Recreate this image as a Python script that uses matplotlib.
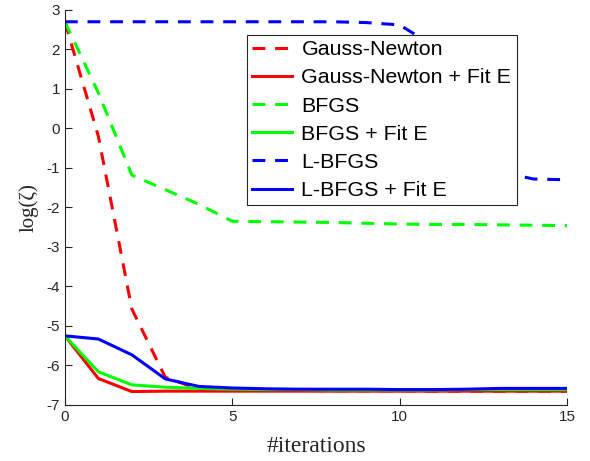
import matplotlib
matplotlib.use("Agg")
import matplotlib.pyplot as plt
import numpy as np

plt.rcParams['axes.unicode_minus'] = False

iters = list(range(16))
gn = [2.7, -0.2, -4.57, -6.3, -6.6, -6.62, -6.63, -6.63, -6.64, -6.64, -6.64, -6.65, -6.65, -6.65, -6.65, -6.65]
gn_fit = [-5.25, -6.33, -6.66, -6.65, -6.65, -6.65, -6.65, -6.65, -6.65, -6.65, -6.65, -6.65, -6.65, -6.65, -6.65, -6.65]
bfgs = [2.7, 0.9, -1.18, -1.55, -1.92, -2.35, -2.36, -2.37, -2.38, -2.40, -2.42, -2.43, -2.43, -2.44, -2.45, -2.46]
bfgs_fit = [-5.25, -6.16, -6.49, -6.55, -6.58, -6.6, -6.61, -6.61, -6.62, -6.62, -6.62, -6.62, -6.61, -6.61, -6.61, -6.61]
lbfgs = [2.7, 2.7, 2.7, 2.7, 2.7, 2.7, 2.7, 2.7, 2.7, 2.68, 2.62, 2.1, 0.3, -1.1, -1.28, -1.3]
lbfgs_fit = [-5.25, -5.33, -5.73, -6.34, -6.53, -6.57, -6.59, -6.6, -6.6, -6.6, -6.61, -6.61, -6.6, -6.58, -6.58, -6.58]

labels = ["Gauss-Newton", "Gauss-Newton + Fit E", "BFGS", "BFGS + Fit E", "L-BFGS", "L-BFGS + Fit E"]

fig = plt.figure(figsize=(5.9, 4.61), dpi=100)
ax = fig.add_axes([0.110, 0.1215, 0.851, 0.857])

dash = (0, (4.2, 3.2))
lw = 2.2
ax.plot(iters, gn, color=(1, 0, 0), lw=lw, linestyle=dash, label=labels[0])
ax.plot(iters, gn_fit, color=(1, 0, 0), lw=lw, label=labels[1])
ax.plot(iters, bfgs, color=(0, 1, 0), lw=lw, linestyle=dash, label=labels[2])
ax.plot(iters, bfgs_fit, color=(0, 1, 0), lw=lw, label=labels[3])
ax.plot(iters, lbfgs, color=(0, 0, 1), lw=lw, linestyle=dash, label=labels[4])
ax.plot(iters, lbfgs_fit, color=(0, 0, 1), lw=lw, label=labels[5])

ax.set_xlim(0, 15)
ax.set_ylim(-7, 3)
ax.set_xticks([0, 5, 10, 15])
ax.set_yticks(range(-7, 4))
ax.spines['top'].set_visible(False)
ax.spines['right'].set_visible(False)
for s in ['left', 'bottom']:
    ax.spines[s].set_color('#262626')
    ax.spines[s].set_linewidth(0.8)
ax.tick_params(direction='in', length=5, width=0.8, colors='#262626',
               labelsize=11, labelcolor='#262626')
for t in ax.get_xticklabels() + ax.get_yticklabels():
    t.set_fontfamily('Liberation Sans')

ax.set_xlabel('#iterations', fontfamily='Liberation Serif', fontsize=17, color='#262626', labelpad=9)
ax.set_ylabel('log(ζ)', fontfamily='Liberation Serif', fontsize=15, color='#262626', labelpad=6)

leg = ax.legend(loc='upper left', bbox_to_anchor=(0.3625, 0.937), prop={'family': 'Liberation Sans', 'size': 15.4},
                frameon=True, fancybox=False, framealpha=1, edgecolor='#262626', handlelength=1.85,
                handletextpad=0.45, labelspacing=0.43, borderpad=0.25, borderaxespad=0)
leg.get_frame().set_linewidth(0.8)

fig.savefig('out.png', dpi=100)
